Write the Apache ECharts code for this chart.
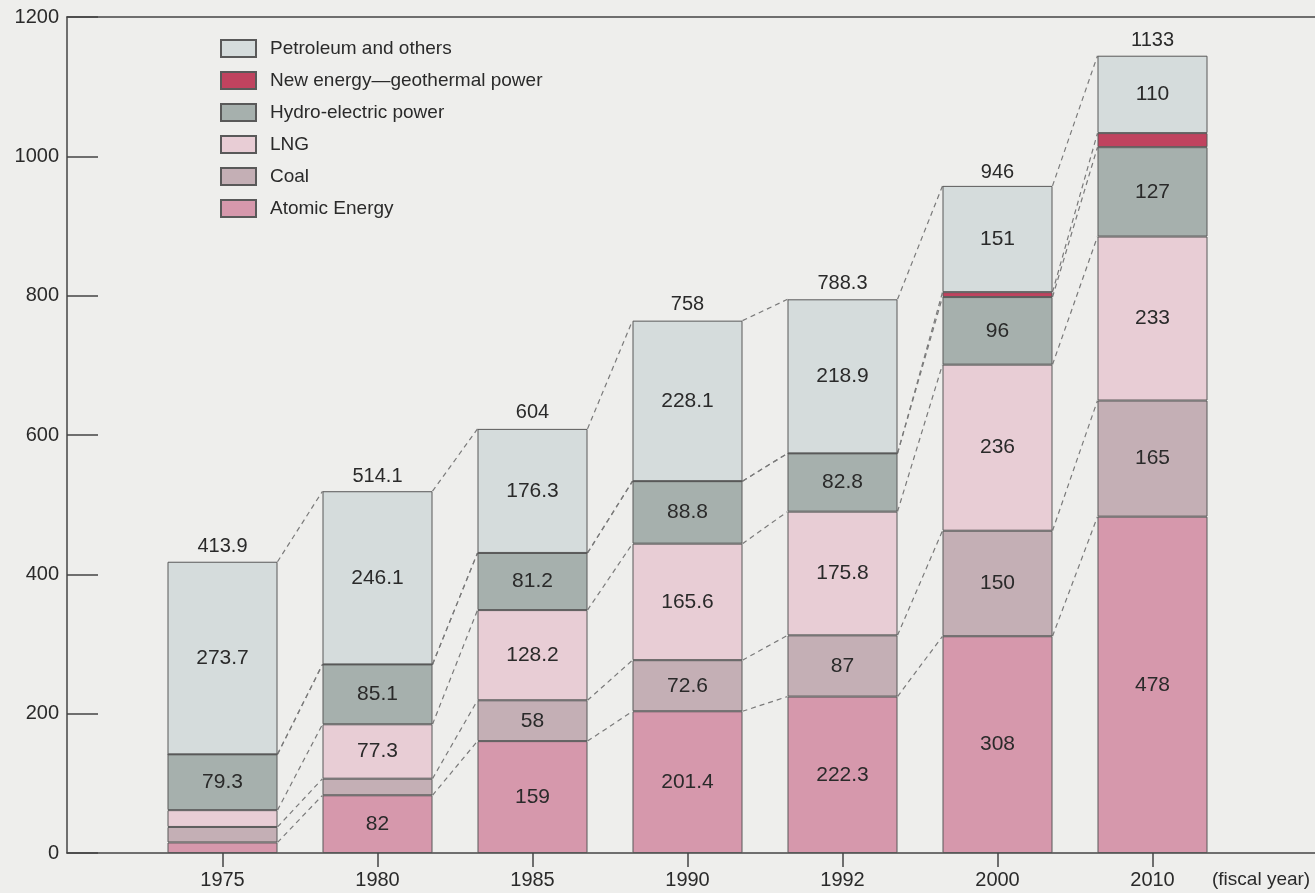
<!DOCTYPE html>
<html>
<head>
    <title>Power supply composition</title>
    <meta http-equiv="content-type" content="text/html; charset=utf-8">
    <script src="https://cdn.jsdelivr.net/npm/echarts@6/dist/echarts.min.js"></script>
    <style type="text/css">
    html, body { margin: 0; padding: 0; background: #eeeeec; }
    #main { position: absolute; width: 1315px; height: 893px; }
    </style>
</head>
<body>
    <div id="main"></div>
    <script type="text/javascript">
    var years = ['1975', '1980', '1985', '1990', '1992', '2000', '2010'];
    var atomic    = [15, 82, 159, 201.4, 222.3, 308, 478];
    var coal      = [22, 23.6, 58, 72.6, 87, 150, 165];
    var lng       = [23.9, 77.3, 128.2, 165.6, 175.8, 236, 233];
    var hydro     = [79.3, 85.1, 81.2, 88.8, 82.8, 96, 127];
    var newEnergy = [0, 0, 0, 0, 0, 7, 20];
    var petroleum = [273.7, 246.1, 176.3, 228.1, 218.9, 151, 110];
    var totals    = [413.9, 514.1, 604, 758, 788.3, 946, 1133];

    var layers = [
        { name: 'Atomic Energy', data: atomic, color: '#d698ac' },
        { name: 'Coal', data: coal, color: '#c4afb5' },
        { name: 'LNG', data: lng, color: '#e8cdd5' },
        { name: 'Hydro-electric power', data: hydro, color: '#a6b0ad' },
        { name: 'New energy\u2014geothermal power', data: newEnergy, color: '#c0435f' },
        { name: 'Petroleum and others', data: petroleum, color: '#d5dcdc' }
    ];

    // cumulative tops of each layer, for the dashed connectors
    var cum = years.map(function (y, i) {
        var s = 0;
        return layers.map(function (l) { s += l.data[i]; return s; });
    });
    var linkData = [];
    for (var i = 0; i < years.length - 1; i++) {
        for (var k = 0; k < layers.length; k++) linkData.push([i, k]);
    }

    var BAR_W = 110;
    var FONT = 'Liberation Sans, Arial, sans-serif';
    var TEXT = '#2a2a2a';
    var myChart = echarts.init(document.getElementById('main'));

    var series = layers.map(function (l) {
        return {
            name: l.name,
            type: 'bar',
            stack: 'all',
            barWidth: BAR_W,
            z: 3,
            itemStyle: { color: l.color, borderColor: '#595959', borderWidth: 1 },
            label: {
                show: true,
                position: 'inside',
                color: TEXT,
                fontSize: 21,
                fontFamily: FONT,
                formatter: function (p) { return p.value >= 50 ? String(p.value) : ''; }
            },
            data: l.data
        };
    });

    series.push({
        type: 'custom',
        silent: true,
        z: 1,
        renderItem: function (params, api) {
            var i = api.value(0), k = api.value(1);
            var a = api.coord([i, cum[i][k]]);
            var b = api.coord([i + 1, cum[i + 1][k]]);
            return {
                type: 'line',
                shape: { x1: a[0] + BAR_W / 2, y1: a[1], x2: b[0] - BAR_W / 2, y2: b[1] },
                style: { stroke: '#7a7a7a', lineWidth: 1.2, lineDash: [5, 4] }
            };
        },
        data: linkData
    });

    series.push({
        type: 'scatter',
        symbolSize: 0,
        silent: true,
        z: 4,
        itemStyle: { opacity: 1 },
        label: {
            show: true,
            position: 'top',
            distance: 5,
            color: TEXT,
            fontSize: 20,
            fontFamily: FONT,
            formatter: function (p) { return String(totals[p.dataIndex]); }
        },
        data: totals
    });

    var axisColor = '#444';

    myChart.setOption({
        backgroundColor: '#eeeeec',
        animation: false,
        textStyle: { fontFamily: FONT },
        grid: [
            { left: 145, right: 85, top: 17, bottom: 40 },
            { left: 67, right: 0, top: 17, bottom: 40 }
        ],
        legend: {
            orient: 'vertical',
            left: 220,
            top: 39,
            padding: 0,
            itemWidth: 35,
            itemHeight: 17,
            itemGap: 13,
            icon: 'rect',
            textStyle: { fontSize: 19, color: TEXT, padding: [0, 0, 0, 9] },
            data: ['Petroleum and others', 'New energy\u2014geothermal power', 'Hydro-electric power', 'LNG', 'Coal', 'Atomic Energy']
        },
        xAxis: [{
            gridIndex: 0,
            type: 'category',
            data: years,
            axisLine: { show: false },
            axisTick: { show: true, alignWithLabel: true, length: 14, lineStyle: { color: axisColor, width: 1.5 } },
            axisLabel: { margin: 17, fontSize: 20, color: TEXT }
        }, {
            gridIndex: 1,
            type: 'value',
            min: 0,
            max: 1,
            splitLine: { show: false },
            axisLine: { show: true, onZero: false, lineStyle: { color: axisColor, width: 1.5 } },
            axisTick: { show: false },
            axisLabel: { show: false }
        }, {
            gridIndex: 1,
            type: 'value',
            position: 'top',
            min: 0,
            max: 1,
            splitLine: { show: false },
            axisLine: { show: true, onZero: false, lineStyle: { color: axisColor, width: 1.5 } },
            axisTick: { show: false },
            axisLabel: { show: false }
        }],
        yAxis: [{
            gridIndex: 0,
            type: 'value',
            min: 0,
            max: 1188,
            show: false
        }, {
            gridIndex: 1,
            type: 'value',
            min: 0,
            max: 1200,
            interval: 200,
            splitLine: { show: false },
            axisLine: { show: true, onZero: false, lineStyle: { color: axisColor, width: 1.5 } },
            axisTick: { show: true, inside: true, length: 31, lineStyle: { color: axisColor, width: 1.5 } },
            axisLabel: {
                margin: 8,
                fontSize: 20,
                color: TEXT,
                formatter: function (v) { return String(v); }
            }
        }],
        graphic: [{
            type: 'text',
            left: 1212,
            top: 870,
            style: { text: '(fiscal year)', fontSize: 19, fill: TEXT, fontFamily: FONT }
        }],
        series: series
    });
    </script>
</body>
</html>
